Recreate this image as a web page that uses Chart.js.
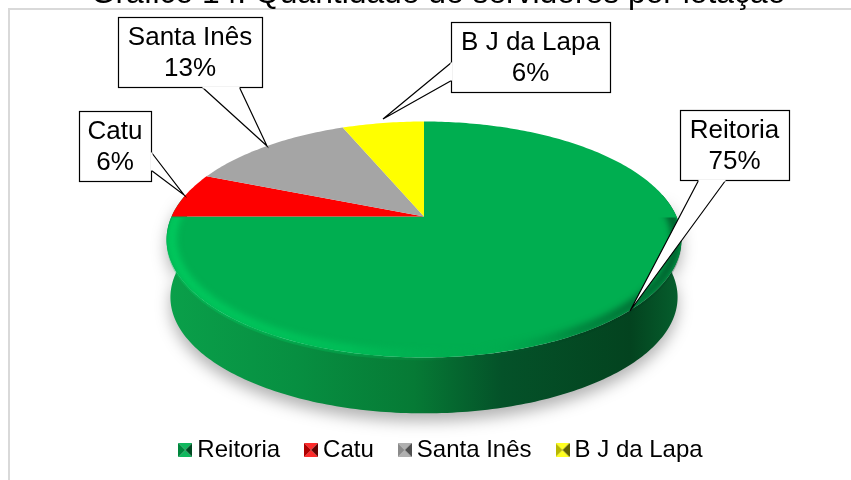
<!DOCTYPE html>
<html>
<head>
<meta charset="utf-8">
<script src="https://cdn.jsdelivr.net/npm/chart.js@4"></script>
<style>
  html, body { margin: 0; padding: 0; background: #fff; overflow: hidden; }
  #wrap { position: relative; width: 851px; height: 480px; }
</style>
</head>
<body>
<div id="wrap"><canvas id="chart" width="851" height="480"></canvas></div>
<script>
const titulo = "Gráfico 14: Quantidade de servidores por lotação";
const lotacoes = ["Reitoria", "Catu", "Santa Inês", "B J da Lapa"];
const servidores = [75, 6.2, 12.6, 6.2];
const cores = ["#00ae50", "#fe0000", "#a5a5a5", "#ffff00"];

// caixas dos rotulos: [x, y, w, h], base do ponteiro e ponta
const caixas = [
  { box: [680, 110, 109, 70], base: [[698, 180], [725, 180]], tip: [630, 311] },
  { box: [79, 111, 72, 70], base: [[151, 152], [151, 170]], tip: [184, 195] },
  { box: [118, 17, 144, 70], base: [[202, 87], [239, 87]], tip: [267, 146] },
  { box: [451, 22, 159, 70], base: [[451, 62], [451, 80]], tip: [383, 119] },
];

// perspectiva do disco
const cx = 424, cy = 216.5, B = 252.5, A = 113.5, P = 0.195;
function proj(a, k = 1, dy = 0) {
  const w = 1 - P * Math.sin(a);
  return [cx + k * B * Math.cos(a) / w, cy + dy + k * A * Math.sin(a) / w];
}
function tracaArco(ctx, a0, a1, k, dy, novo) {
  const n = Math.max(8, Math.ceil(Math.abs(a1 - a0) * 60));
  for (let i = 0; i <= n; i++) {
    const p = proj(a0 + (a1 - a0) * i / n, k, dy);
    if (i === 0 && novo) ctx.moveTo(p[0], p[1]);
    else ctx.lineTo(p[0], p[1]);
  }
}

function marcador(cor, claro, escuro) {
  const c = document.createElement("canvas");
  c.width = 14; c.height = 14;
  const g = c.getContext("2d");
  const tri = (pts, f) => {
    g.fillStyle = f;
    g.beginPath();
    pts.forEach((p, i) => i ? g.lineTo(p[0], p[1]) : g.moveTo(p[0], p[1]));
    g.closePath();
    g.fill();
  };
  tri([[0, 0], [14, 0], [7, 7]], claro);
  tri([[0, 14], [14, 14], [7, 7]], claro);
  tri([[0, 0], [0, 14], [7, 7]], cor);
  tri([[14, 0], [14, 14], [7, 7]], escuro);
  return c;
}
const marcadores = [
  marcador("#00863d", "#10b85e", "#004a22"),
  marcador("#b00000", "#ff2a2a", "#600000"),
  marcador("#8a8a8a", "#b0b0b0", "#505050"),
  marcador("#b8b800", "#ffff20", "#606000"),
];

const disco3d = {
  id: "disco3d",
  beforeDraw(chart) {
    const ctx = chart.ctx;
    ctx.save();
    ctx.fillStyle = "#fff";
    ctx.fillRect(0, 0, 851, 480);
    // moldura
    ctx.fillStyle = "#d9d9d9";
    ctx.fillRect(8, 8, 843, 2);
    ctx.fillRect(8, 8, 2, 472);
    // titulo cortado no topo
    ctx.fillStyle = "#000";
    ctx.font = "31.8px 'Liberation Sans'";
    ctx.textAlign = "center";
    ctx.textBaseline = "alphabetic";
    ctx.fillText(titulo, 438, 3);
    ctx.restore();
  },
  beforeDatasetDraw(chart) {
    const ctx = chart.ctx;
    const arcos = chart.getDatasetMeta(0).data;
    ctx.save();

    // lateral com sombra
    const ini = Math.PI + 0.2, fim = -0.2;
    const silhueta = () => {
      ctx.beginPath();
      tracaArco(ctx, ini, fim, 1, 0, true);
      tracaArco(ctx, fim, ini, 0.985, 58, false);
      ctx.closePath();
    };
    const g = ctx.createLinearGradient(167, 0, 682, 0);
    g.addColorStop(0, "#0aa04a");
    g.addColorStop(0.25, "#078f41");
    g.addColorStop(0.48, "#067a35");
    g.addColorStop(0.65, "#045229");
    g.addColorStop(0.9, "#03431f");
    g.addColorStop(1, "#06602e");
    ctx.save();
    ctx.shadowColor = "rgba(0,0,0,0.3)";
    ctx.shadowBlur = 15;
    ctx.shadowOffsetY = 8;
    ctx.fillStyle = g;
    silhueta();
    ctx.fill();
    ctx.restore();

    // fatias a partir dos angulos do proprio Chart.js
    arcos.forEach((arc, i) => {
      const p = arc.getProps(["startAngle", "endAngle"], true);
      ctx.fillStyle = cores[i];
      ctx.beginPath();
      ctx.moveTo(cx, cy);
      tracaArco(ctx, p.startAngle, p.endAngle, 1, 0, false);
      ctx.closePath();
      ctx.fill();
    });

    // chanfro da borda da frente
    ctx.save();
    ctx.beginPath();
    tracaArco(ctx, Math.PI, 0, 1, 3, true);
    tracaArco(ctx, 0, -Math.PI, 1, 0, false);
    ctx.closePath();
    ctx.clip();
    ctx.beginPath();
    ctx.rect(0, cy + 1, 851, 300);
    ctx.clip();
    const r = ctx.createLinearGradient(167, 0, 682, 0);
    r.addColorStop(0, "rgba(0,205,95,0.85)");
    r.addColorStop(0.35, "rgba(0,205,95,0.55)");
    r.addColorStop(0.6, "rgba(0,174,80,0)");
    r.addColorStop(0.78, "rgba(0,60,30,0.3)");
    r.addColorStop(1, "rgba(0,60,30,0.7)");
    ctx.strokeStyle = r;
    ctx.filter = "blur(3px)";
    ctx.lineWidth = 10;
    ctx.beginPath();
    tracaArco(ctx, Math.PI + 0.05, -0.12, 0.98, 0, true);
    ctx.stroke();
    ctx.restore();

    ctx.restore();
    return false;
  },
  afterDraw(chart) {
    const ctx = chart.ctx;
    const total = servidores.reduce((a, b) => a + b, 0);
    ctx.save();
    caixas.forEach((c, i) => {
      const [x, y, w, h] = c.box;
      ctx.fillStyle = "#fff";
      ctx.fillRect(x, y, w, h);
      ctx.strokeStyle = "#000";
      ctx.lineWidth = 1.2;
      ctx.strokeRect(x + 0.5, y + 0.5, w, h);
      // ponteiro
      ctx.beginPath();
      ctx.moveTo(c.base[0][0] + 0.5, c.base[0][1] + 0.5);
      ctx.lineTo(c.tip[0], c.tip[1]);
      ctx.lineTo(c.base[1][0] + 0.5, c.base[1][1] + 0.5);
      ctx.fill();
      ctx.stroke();
      // tira a linha da caixa na base do ponteiro
      ctx.strokeStyle = "#fff";
      ctx.lineWidth = 2;
      ctx.beginPath();
      ctx.moveTo(c.base[0][0] + 0.5, c.base[0][1] + 0.5);
      ctx.lineTo(c.base[1][0] + 0.5, c.base[1][1] + 0.5);
      ctx.stroke();
      ctx.fillStyle = "#000";
      ctx.font = "26px 'Liberation Sans'";
      ctx.textAlign = "center";
      ctx.textBaseline = "middle";
      ctx.fillText(lotacoes[i], x + w / 2, y + 21);
      ctx.fillText(Math.round(servidores[i] / total * 100) + "%", x + w / 2, y + 52);
    });
    ctx.restore();
  },
};

new Chart(document.getElementById("chart"), {
  type: "pie",
  plugins: [disco3d],
  data: {
    labels: lotacoes,
    datasets: [{ data: servidores, backgroundColor: cores, borderWidth: 0 }],
  },
  options: {
    responsive: false,
    animation: false,
    layout: { padding: { left: 37, bottom: 8 } },
    plugins: {
      tooltip: { enabled: false },
      legend: {
        position: "bottom",
        labels: {
          usePointStyle: true,
          boxWidth: 0.01,
          padding: 31,
          color: "#000",
          font: { family: "'Liberation Sans'", size: 24 },
          generateLabels: (chart) => lotacoes.map((t, i) => ({
            text: t,
            pointStyle: marcadores[i],
            fontColor: "#000",
            index: i,
          })),
        },
      },
    },
  },
});
</script>
</body>
</html>
